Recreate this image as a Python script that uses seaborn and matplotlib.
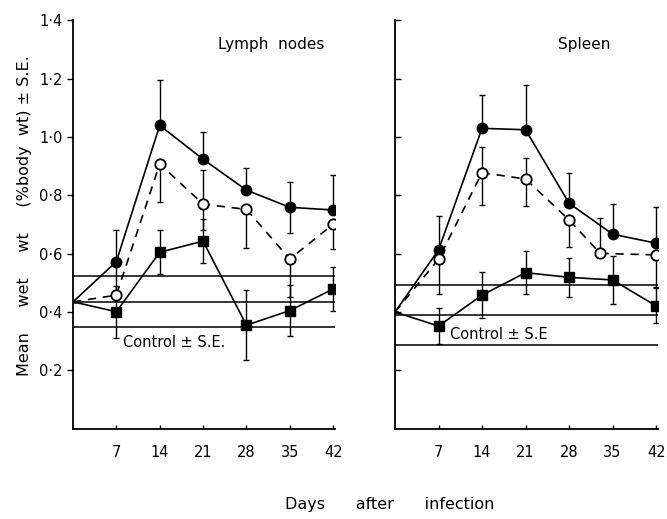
import matplotlib
matplotlib.use("Agg")
import matplotlib.pyplot as plt
import seaborn as sns
import pandas as pd
import numpy as np

# ---- data ----
days = [0, 7, 14, 21, 28, 35, 42]
tick_days = [7, 14, 21, 28, 35, 42]
ytick_vals = [0.2, 0.4, 0.6, 0.8, 1.0, 1.2, 1.4]
ytick_labels = ["0·2", "0·4", "0·6", "0·8", "1·0", "1·2", "1·4"]

# Lymph nodes
ln_filled = [0.435, 0.573, 1.04, 0.924, 0.818, 0.759, 0.75]
ln_filled_lo = [0, 0, 0, 0, 0, 0.088, 0]
ln_filled_hi = [0, 0.11, 0.157, 0.094, 0.075, 0.088, 0.12]
ln_open = [0.435, 0.458, 0.908, 0.77, 0.752, 0.582, 0.701]
ln_open_lo = [0, 0.0, 0.13, 0.089, 0.133, 0.13, 0.085]
ln_open_hi = [0, 0.1, 0, 0.117, 0, 0, 0]
ln_sq = [0.435, 0.401, 0.605, 0.643, 0.355, 0.405, 0.479]
ln_sq_err = [0, 0.09, 0.075, 0.076, 0.12, 0.087, 0.076]
ln_control = 0.435
ln_control_se = 0.088

# Spleen
sp_filled = [0.40, 0.613, 1.03, 1.025, 0.773, 0.667, 0.636]
sp_filled_lo = [0, 0, 0, 0, 0, 0, 0]
sp_filled_hi = [0, 0.116, 0.114, 0.153, 0.103, 0.103, 0.125]
sp_open_days = [0, 7, 14, 21, 28, 33, 42]
sp_open = [0.40, 0.581, 0.878, 0.856, 0.716, 0.601, 0.596]
sp_open_lo = [0, 0.12, 0.111, 0.093, 0.092, 0, 0.109]
sp_open_hi = [0, 0, 0.088, 0.071, 0, 0.12, 0]
sp_sq = [0.40, 0.352, 0.458, 0.535, 0.519, 0.510, 0.421]
sp_sq_err = [0, 0.062, 0.078, 0.074, 0.068, 0.083, 0.06]
sp_control = 0.39
sp_control_se = 0.103

sns.set_style("ticks")
plt.rcParams["font.family"] = ["DejaVu Sans"]
for k in ("text.color", "axes.labelcolor", "xtick.color", "ytick.color", "axes.edgecolor"):
    plt.rcParams[k] = "black"

fig = plt.figure(figsize=(6.67, 5.19), dpi=100)
ax1 = fig.add_axes([73/667, 1-428.7/519, 262/667, 408.3/519])
ax2 = fig.add_axes([395/667, 1-428.7/519, 263/667, 408.3/519])

def draw(ax, x_f, yf, flo, fhi, x_o, yo, olo, ohi, x_s, ys, serr, ctrl, cse):
    for y in (ctrl - cse, ctrl, ctrl + cse):
        ax.axhline(y, color="black", lw=1.1, zorder=1)
    ax.errorbar(x_f, yf, yerr=[flo, fhi], fmt="none", ecolor="black", elinewidth=1.0, capsize=2.2, capthick=1.0, zorder=2)
    ax.errorbar(x_o, yo, yerr=[olo, ohi], fmt="none", ecolor="black", elinewidth=1.0, capsize=2.2, capthick=1.0, zorder=2)
    ax.errorbar(x_s, ys, yerr=serr, fmt="none", ecolor="black", elinewidth=1.0, capsize=2.2, capthick=1.0, zorder=2)
    df_f = pd.DataFrame({"day": x_f, "v": yf})
    df_o = pd.DataFrame({"day": x_o, "v": yo})
    df_s = pd.DataFrame({"day": x_s, "v": ys})
    sns.lineplot(data=df_f, x="day", y="v", ax=ax, color="black", lw=1.2, zorder=3)
    sns.lineplot(data=df_o, x="day", y="v", ax=ax, color="black", lw=1.2, linestyle=(0, (5, 4)), zorder=3)
    sns.lineplot(data=df_s, x="day", y="v", ax=ax, color="black", lw=1.2, zorder=3)
    ax.plot(x_f[1:], yf[1:], "o", ms=7.5, mfc="black", mec="black", mew=1.0, zorder=4)
    ax.plot(x_o[1:], yo[1:], "o", ms=7.5, mfc="white", mec="black", mew=1.3, zorder=4)
    ax.plot(x_s[1:], ys[1:], "s", ms=7.5, mfc="black", mec="black", mew=1.0, zorder=4)
    ax.set_xlim(0, 42.3)
    ax.set_ylim(0, 1.4)
    ax.set_xticks(tick_days)
    ax.set_xticklabels([str(d) for d in tick_days], fontsize=10.5)
    ax.set_yticks(ytick_vals)
    ax.tick_params(axis="x", direction="in", length=3, width=1, pad=12)
    ax.set_xlabel("")
    ax.set_ylabel("")
    for s in ("top", "right"):
        ax.spines[s].set_visible(False)
    for s in ("left", "bottom"):
        ax.spines[s].set_linewidth(1.3)

draw(ax1, days, ln_filled, ln_filled_lo, ln_filled_hi, days, ln_open, ln_open_lo, ln_open_hi,
     days, ln_sq, ln_sq_err, ln_control, ln_control_se)
draw(ax2, days, sp_filled, sp_filled_lo, sp_filled_hi, sp_open_days, sp_open, sp_open_lo, sp_open_hi,
     days, sp_sq, sp_sq_err, sp_control, sp_control_se)

ax1.set_yticklabels(ytick_labels, fontsize=10.5)
ax1.tick_params(axis="y", direction="out", length=4, width=1)
ax2.set_yticklabels([])
ax2.tick_params(axis="y", direction="in", length=4, width=1)

ax1.text(0.96, 0.94, "Lymph  nodes", transform=ax1.transAxes, ha="right", va="center", fontsize=11)
ax2.text(0.82, 0.94, "Spleen", transform=ax2.transAxes, ha="right", va="center", fontsize=11)
ax1.text(8.0, 0.295, "Control ± S.E.", ha="left", va="center", fontsize=10.5)
ax2.text(8.8, 0.322, "Control ± S.E", ha="left", va="center", fontsize=10.5)

fig.text(25/667, 1-216/519, "Mean     wet     wt     (%body  wt) ± S.E.", rotation=90,
         ha="center", va="center", fontsize=11.5)
fig.text(390/667, 1-505/519, "Days      after      infection", ha="center", va="center", fontsize=11.5)

fig.savefig("out.png", dpi=100)
